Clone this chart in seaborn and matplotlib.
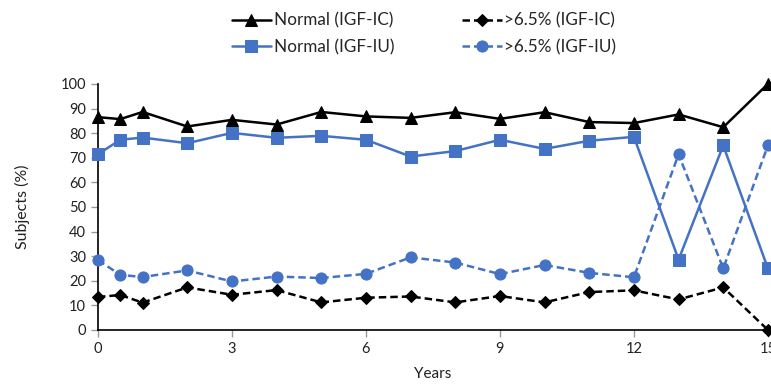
import numpy as np
import pandas as pd
import matplotlib
matplotlib.use("Agg")
import matplotlib.pyplot as plt
import seaborn as sns

# data
years = [0, 0.5, 1, 2, 3, 4, 5, 6, 7, 8, 9, 10, 11, 12, 13, 14, 15]
normal_ic = [86.5, 85.7, 88.6, 82.7, 85.4, 83.5, 88.6, 86.8, 86.2, 88.5, 85.8, 88.5, 84.5, 84.1, 87.6, 82.4, 100]
high_ic = [13.4, 14.2, 11.1, 17.3, 14.3, 16.2, 11.2, 13.1, 13.6, 11.2, 13.8, 11.2, 15.4, 16.1, 12.4, 17.3, 0]
normal_iu = [71.4, 77.3, 78.2, 75.9, 80.1, 78.1, 78.9, 77.3, 70.5, 72.7, 77.3, 73.6, 76.9, 78.5, 28.6, 75.0, 25.0]
high_iu = [28.4, 22.4, 21.5, 24.2, 19.7, 21.7, 21.1, 22.8, 29.5, 27.4, 22.7, 26.4, 23.2, 21.4, 71.4, 25.0, 75.0]

x_ticks = [0, 3, 6, 9, 12, 15]
y_ticks = list(range(0, 101, 10))

sns.set_theme(style="ticks")
plt.rcParams['font.family'] = ['Lato', 'DejaVu Sans']

blue = "#4472C4"
fig = plt.figure(figsize=(7.71, 3.85), dpi=100)
ax = fig.add_axes([0.127, 0.143, 0.869, 0.639])

# plot order chosen so the 2-column legend matches the reference
series = [
    ("Normal (IGF-IC)", normal_ic, "black", "-", "^", 8.5),
    ("Normal (IGF-IU)", normal_iu, blue, "-", "s", 8),
    (">6.5% (IGF-IC)", high_ic, "black", (0, (3, 1.6)), "D", 6),
    (">6.5% (IGF-IU)", high_iu, blue, (0, (3, 1.6)), "o", 8),
]
for name, vals, col, ls, mk, ms in series:
    df = pd.DataFrame({"Years": years, "val": vals})
    sns.lineplot(data=df, x="Years", y="val", ax=ax, color=col, linestyle=ls,
                 marker=mk, markersize=ms, markeredgecolor=col, linewidth=1.8,
                 label=name, clip_on=False, zorder=3)

ax.set_xlim(0, 15)
ax.set_ylim(0, 100)
ax.set_xticks(x_ticks)
ax.set_yticks(y_ticks)
ax.tick_params(axis="both", labelsize=10.5, colors="#222222", length=5, width=1)
ax.tick_params(axis="x", color="#999999")
ax.tick_params(axis="y", color="#999999")
for s in ["left", "bottom"]:
    ax.spines[s].set_color("black")
    ax.spines[s].set_linewidth(1.2)
sns.despine(ax=ax)
ax.set_xlabel("Years", fontsize=11, color="#222222", labelpad=8)
ax.set_ylabel("Subjects (%)", fontsize=11.5, color="#222222", labelpad=22)

ax.legend(loc="center", bbox_to_anchor=(0.55, 0.912), bbox_transform=fig.transFigure,
          ncol=2, frameon=False, fontsize=12.3, handlelength=2.3, handletextpad=0.15,
          columnspacing=4.0, labelspacing=0.6)

fig.savefig("out.png", dpi=100)
